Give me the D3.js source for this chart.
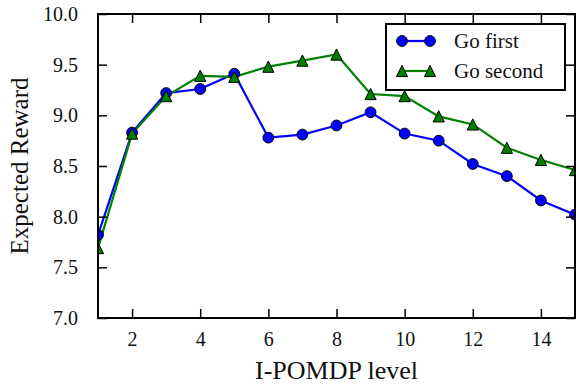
<!DOCTYPE html>
<html><head><meta charset="utf-8">
<script src="https://cdn.jsdelivr.net/npm/d3@7"></script>
<style>body{margin:0;background:#fff}svg{display:block}</style>
</head><body>
<script>
const levels = [1,2,3,4,5,6,7,8,9,10,11,12,13,14,15];
const goFirst = [7.82,8.83,9.22,9.26,9.41,8.78,8.81,8.90,9.03,8.82,8.75,8.52,8.40,8.16,8.02];
const goSecond = [7.69,8.82,9.19,9.39,9.38,9.48,9.54,9.60,9.21,9.19,8.99,8.91,8.68,8.56,8.46];
const xTicks = [2,4,6,8,10,12,14];
const yTicks = [7.0,7.5,8.0,8.5,9.0,9.5,10.0];
const seriesNames = ["Go first","Go second"];

const W=576,H=384;
const L=98,R=575,T=14,B=318;
const font="'Liberation Serif','Times New Roman',serif";
const svg=d3.select("body").append("svg").attr("width",W).attr("height",H);
const x=d3.scaleLinear().domain([1,15]).range([L,R]);
const y=d3.scaleLinear().domain([7,10]).range([B,T]);

svg.append("defs").append("clipPath").attr("id","clip").append("rect")
  .attr("x",L).attr("y",T).attr("width",R-L).attr("height",B-T);

const g=svg.append("g").attr("clip-path","url(#clip)");
const line=d3.line().x((d,i)=>x(levels[i])).y(d=>y(d));
const tri=s=>`M0,${-s}L${-s},${s}L${s},${s}Z`;

g.append("path").datum(goFirst).attr("d",line).attr("fill","none").attr("stroke","#0000ff").attr("stroke-width",2.2);
g.append("path").datum(goSecond).attr("d",line).attr("fill","none").attr("stroke","#008000").attr("stroke-width",2.2);
g.selectAll("circle.m").data(goFirst).enter().append("circle")
  .attr("cx",(d,i)=>x(levels[i])).attr("cy",d=>y(d)).attr("r",5.4)
  .attr("fill","#0000ff").attr("stroke","#000").attr("stroke-width",1);
g.selectAll("path.t").data(goSecond).enter().append("path")
  .attr("transform",(d,i)=>`translate(${x(levels[i])},${y(d)})`).attr("d",tri(5.6))
  .attr("fill","#008000").attr("stroke","#000").attr("stroke-width",1);

// axes
const axB=d3.axisBottom(x).tickValues(xTicks).tickSize(-9).tickPadding(14).tickFormat(d3.format("d"));
const axT=d3.axisTop(x).tickValues(xTicks).tickSize(-9).tickFormat("");
const axL=d3.axisLeft(y).tickValues(yTicks).tickSize(-9).tickPadding(20).tickFormat(d3.format(".1f"));
const axR=d3.axisRight(y).tickValues(yTicks).tickSize(-9).tickFormat("");
function style(sel){
  sel.select(".domain").remove();
  sel.selectAll(".tick line").attr("stroke","#000").attr("stroke-width",1.5);
  sel.selectAll(".tick text").attr("font-family",font).attr("font-size",20).attr("fill","#111");
}
svg.append("g").attr("transform",`translate(0,${B})`).call(axB).call(style);
svg.append("g").attr("transform",`translate(0,${T})`).call(axT).call(style);
svg.append("g").attr("transform",`translate(${L},0)`).call(axL).call(style);
svg.append("g").attr("transform",`translate(${R},0)`).call(axR).call(style);

svg.append("rect").attr("x",L).attr("y",T).attr("width",R-L).attr("height",B-T)
  .attr("fill","none").attr("stroke","#000").attr("stroke-width",2);

svg.append("text").attr("x",(L+R)/2).attr("y",379).attr("text-anchor","middle")
  .attr("font-family",font).attr("font-size",26).attr("fill","#111").text("I-POMDP level");
svg.append("text").attr("transform",`translate(28,${(T+B)/2}) rotate(-90)`).attr("text-anchor","middle")
  .attr("font-family",font).attr("font-size",25).attr("fill","#111").text("Expected Reward");

// legend
const lg=svg.append("g");
lg.append("rect").attr("x",386).attr("y",24).attr("width",179).attr("height",66)
  .attr("fill","#fff").attr("stroke","#000").attr("stroke-width",2);
const rows=[41,71];
const cols=["#0000ff","#008000"];
rows.forEach((ry,i)=>{
  lg.append("line").attr("x1",402).attr("x2",430).attr("y1",ry).attr("y2",ry)
    .attr("stroke",cols[i]).attr("stroke-width",2.2);
  [402,430].forEach(cx=>{
    if(i===0) lg.append("circle").attr("cx",cx).attr("cy",ry).attr("r",5.4).attr("fill",cols[i]).attr("stroke","#000");
    else lg.append("path").attr("transform",`translate(${cx},${ry})`).attr("d",tri(5.6)).attr("fill",cols[i]).attr("stroke","#000");
  });
  lg.append("text").attr("x",454).attr("y",ry+7).attr("font-family",font).attr("font-size",21).attr("fill","#111").text(seriesNames[i]);
});
</script>
</body></html>
